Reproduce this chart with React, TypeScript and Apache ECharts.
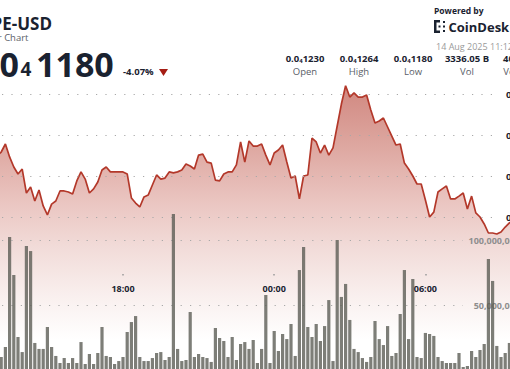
import React, { useEffect, useRef } from "react";
import * as echarts from "echarts";

// 10-minute buckets, 13:00 (13 Aug) .. 09:30 (14 Aug)
const startMinutes = 13 * 60;
const stepMinutes = 10;
const bucketCount = 124;
const categories: string[] = [];
for (let i = 0; i < bucketCount; i++) {
  const m = (startMinutes + i * stepMinutes) % (24 * 60);
  categories.push(
    `${String(Math.floor(m / 60)).padStart(2, "0")}:${String(m % 60).padStart(2, "0")}`
  );
}
const tickLabels = ["18:00", "00:00", "06:00"];

// Price in units of 1e-8 USD (0.0₄1230 = 1230)
const priceE8 = [
  1229.8, 1231.7, 1235.6, 1229.3, 1224.4, 1221.0, 1223.4, 1211.7, 1214.6, 1207.8,
  1213.2, 1205.4, 1201.0, 1206.3, 1207.8, 1212.7, 1212.7, 1212.2, 1211.2, 1217.6,
  1222.0, 1218.5, 1211.7, 1213.7, 1217.1, 1222.9, 1224.4, 1222.0, 1222.0, 1222.0,
  1222.0, 1221.0, 1209.3, 1206.8, 1204.9, 1209.8, 1210.7, 1215.6, 1220.5, 1218.5,
  1219.0, 1222.0, 1221.5, 1222.0, 1222.9, 1225.9, 1224.9, 1223.4, 1230.2, 1230.7,
  1226.8, 1226.3, 1218.0, 1217.6, 1221.0, 1222.0, 1222.0, 1225.4, 1236.6, 1226.8,
  1237.1, 1234.6, 1234.6, 1235.6, 1230.2, 1225.4, 1231.2, 1232.7, 1235.1, 1226.8,
  1219.0, 1220.0, 1208.8, 1220.0, 1220.5, 1238.5, 1236.6, 1231.2, 1235.1, 1230.2,
  1233.7, 1244.4, 1255.1, 1264.0, 1258.5, 1260.5, 1258.5, 1258.5, 1259.5, 1252.2,
  1245.9, 1246.8, 1248.3, 1243.9, 1239.5, 1235.1, 1235.6, 1226.3, 1223.4, 1220.0,
  1216.1, 1216.1, 1208.3, 1200.0, 1202.4, 1212.2, 1213.7, 1215.1, 1208.8, 1208.8,
  1210.2, 1211.7, 1203.9, 1210.2, 1202.0, 1200.0, 1196.6, 1192.2, 1192.2, 1191.7,
  1192.7, 1195.1, 1197.1, 1198.5,
];

// Volume in millions of tokens
const volumeM = [
  12, 10.0, 17.7, 102.3, 73.1, 25.4, 13.8, 95.4, 91.5, 20.8,
  16.2, 16.2, 33.1, 17.7, 10.8, 5.4, 9.2, 5.4, 9.2, 5.4,
  21.5, 4.6, 12.3, 4.6, 13.1, 33.1, 10.8, 10.0, 4.6, 6.9,
  10.0, 29.2, 36.9, 41.5, 10.0, 6.9, 6.9, 9.2, 13.1, 13.8,
  7.7, 10.0, 120.0, 16.2, 6.9, 7.7, 44.6, 10.0, 12.3, 10.0,
  9.2, 6.2, 32.3, 24.6, 22.3, 10.0, 25.4, 7.7, 20.0, 21.5,
  16.2, 23.1, 5.4, 16.2, 57.7, 5.4, 30.0, 14.6, 27.7, 23.8,
  35.4, 10.8, 76.9, 94.6, 33.1, 25.4, 35.4, 22.3, 33.8, 53.8,
  6.9, 100.0, 56.2, 66.2, 38.5, 16.2, 13.8, 9.2, 6.2, 10.0,
  37.7, 23.8, 19.2, 33.8, 10.8, 13.1, 43.1, 76.9, 23.8, 70.0,
  10.0, 9.2, 28.5, 27.7, 26.2, 10.0, 6.9, 5.4, 5.4, 5.4,
  13.1, 2.3, 3.1, 14.6, 10.0, 15.4, 20.0, 85.4, 68.5, 18.5,
  10.0, 13.1, 20.8, 15,
];

const title = "PEPE-USD";
const subtitle = "24 Hour Chart";
const lastPriceLead = "0.0";
const lastPriceSub = "4";
const lastPriceTail = "1180";
const changePct = "-4.07%";
const statValues = ["0.0₄1230", "0.0₄1264", "0.0₄1180", "3336.05 B", "40.42 M"];
const statLabels = ["Open", "High", "Low", "Vol", "Vol USD"];
const poweredBy = "Powered by";
const brand = "CoinDesk";
const stamp = "14 Aug 2025 11:12 UTC";

const FONT = '"Open Sans", "Noto Sans", sans-serif';
const DARK = "#1a2230";

function richSub(s: string): string {
  if (s.indexOf("₄") < 0) return `{v|${s}}`;
  return `{v|${s.replace("₄", "}{s|4}{v|")}}`;
}

export default function App() {
  const ref = useRef<HTMLDivElement>(null);
  useEffect(() => {
    if (!ref.current) return;
    const chart = echarts.init(ref.current, undefined, { renderer: "svg" });
    const gridL = -5.1;
    const gridW = 520.8;
    const tickIdx = tickLabels.map((t) => categories.indexOf(t));
    const showTick = (i: number) => tickIdx.indexOf(i) >= 0;

    const statEls: any[] = [];
    statValues.forEach((v, i) => {
      const cx = 305 + 54 * i;
      statEls.push({
        type: "text",
        x: cx,
        y: 58.5,
        style: {
          text: richSub(v),
          align: "center",
          verticalAlign: "middle",
          rich: {
            v: { font: `bold 9.5px ${FONT}`, fill: DARK },
            s: { font: `bold 6px ${FONT}`, fill: DARK, padding: [4, 0, 0, 0] },
          },
        },
      });
      statEls.push({
        type: "text",
        x: cx,
        y: 71.5,
        style: {
          text: statLabels[i],
          align: "center",
          verticalAlign: "middle",
          font: `9.5px ${FONT}`,
          fill: "#5a6068",
        },
      });
    });

    const gridBase = { outerBoundsMode: "none", containLabel: false };

    const option: any = {
      animation: false,
      backgroundColor: "#ffffff",
      textStyle: { fontFamily: FONT },
      grid: [
        { ...gridBase, left: 2, top: 94, width: 498, height: 123 },
        { ...gridBase, left: 2, top: 240, width: 461, height: 130 },
        { ...gridBase, left: gridL, top: 53, width: gridW, height: 328 },
        { ...gridBase, left: gridL, top: 240, width: gridW, height: 130 },
        { ...gridBase, left: gridL, top: 200, width: gridW, height: 74 },
      ],
      xAxis: [
        { gridIndex: 0, type: "value", show: false },
        { gridIndex: 1, type: "value", show: false },
        { gridIndex: 2, type: "category", data: categories, show: false },
        { gridIndex: 3, type: "category", data: categories, show: false },
        {
          gridIndex: 4,
          type: "category",
          data: categories,
          z: 6,
          axisLine: { show: false },
          axisTick: {
            show: true,
            alignWithLabel: true,
            interval: (i: number) => showTick(i),
            length: 1.5,
            lineStyle: { color: "#9a9a9a", width: 1.5 },
          },
          axisLabel: {
            interval: (i: number) => showTick(i),
            margin: 10,
            color: DARK,
            fontWeight: "bold",
            fontSize: 9,
            fontFamily: FONT,
          },
          splitLine: { show: false },
        },
      ],
      yAxis: [
        {
          gridIndex: 0,
          type: "value",
          position: "right",
          min: 1200,
          max: 1260,
          interval: 20,
          z: 3,
          axisLine: { show: false },
          axisTick: { show: false },
          splitLine: {
            show: true,
            lineStyle: { color: "#a8a8a8", width: 1.2, type: [1.2, 8.2] },
          },
          axisLabel: {
            margin: 6,
            formatter: (v: number) => `{a|0.0}{s|4}{a|${v}}`,
            rich: {
              a: { color: DARK, fontWeight: "bold", fontSize: 9.5, fontFamily: FONT },
              s: { color: DARK, fontWeight: "bold", fontSize: 6, fontFamily: FONT },
            },
          },
        },
        {
          gridIndex: 1,
          type: "value",
          position: "right",
          min: 0,
          max: 100,
          interval: 50,
          z: 2,
          axisLine: { show: false },
          axisTick: { show: false },
          splitLine: {
            show: true,
            lineStyle: { color: "#a8a8a8", width: 1.2, type: [1.2, 8.2] },
          },
          axisLabel: {
            align: "right",
            margin: 57,
            color: "#8e8e8e",
            fontWeight: "bold",
            fontSize: 9,
            fontFamily: FONT,
            formatter: (v: number) => (v === 0 ? "" : (v * 1e6).toLocaleString("en-US")),
          },
        },
        { gridIndex: 2, type: "value", min: 1120, max: 1280, show: false },
        { gridIndex: 3, type: "value", min: 0, max: 100, show: false },
        { gridIndex: 4, type: "value", show: false },
      ],
      series: [
        {
          type: "line",
          xAxisIndex: 2,
          yAxisIndex: 2,
          data: priceE8,
          symbol: "none",
          z: 1,
          lineStyle: { color: "#b3382a", width: 1.7 },
          areaStyle: {
            origin: "start",
            color: new echarts.graphic.LinearGradient(0, 0, 0, 1, [
              { offset: 0, color: "#bd554a" },
              { offset: 0.2, color: "#cf8177" },
              { offset: 0.4, color: "#e2aea8" },
              { offset: 0.55, color: "#eccdc9" },
              { offset: 0.72, color: "#f7eae8" },
              { offset: 0.86, color: "#ffffff" },
              { offset: 1, color: "#ffffff" },
            ]),
          },
        },
        {
          type: "bar",
          xAxisIndex: 3,
          yAxisIndex: 3,
          data: volumeM,
          barWidth: 3.2,
          clip: false,
          z: 4,
          itemStyle: { color: "rgba(88,90,82,0.78)" },
        },
      ],
      graphic: [
        {
          type: "text",
          x: 52,
          y: 23,
          style: { text: title, font: `bold 17px ${FONT}`, fill: DARK, align: "right", verticalAlign: "middle" },
        },
        {
          type: "text",
          x: 28.5,
          y: 37,
          style: { text: subtitle, font: `9.5px ${FONT}`, fill: "#5a6068", align: "right", verticalAlign: "middle" },
        },
        {
          type: "text",
          x: 19,
          y: 63.5,
          style: { text: lastPriceLead, font: `bold 34px ${FONT}`, fill: DARK, align: "right", verticalAlign: "middle" },
        },
        {
          type: "text",
          x: 20.5,
          y: 68.5,
          style: { text: lastPriceSub, font: `bold 19px ${FONT}`, fill: DARK, align: "left", verticalAlign: "middle" },
        },
        {
          type: "text",
          x: 36,
          y: 63.5,
          style: { text: lastPriceTail, font: `bold 34px ${FONT}`, fill: DARK, align: "left", verticalAlign: "middle" },
        },
        {
          type: "text",
          x: 123,
          y: 71.5,
          style: { text: changePct, font: `bold 9.5px ${FONT}`, fill: DARK, align: "left", verticalAlign: "middle" },
        },
        {
          type: "polygon",
          shape: { points: [[159, 69], [168, 69], [163.5, 76]] },
          style: { fill: "#a51d14" },
        },
        {
          type: "text",
          x: 434,
          y: 10,
          style: { text: poweredBy, font: `bold 8.5px ${FONT}`, fill: DARK, align: "left", verticalAlign: "middle" },
        },
        { type: "rect", shape: { x: 434, y: 20, width: 2.5, height: 13 }, style: { fill: DARK } },
        { type: "rect", shape: { x: 434, y: 20, width: 6, height: 2.5 }, style: { fill: DARK } },
        { type: "rect", shape: { x: 434, y: 30.5, width: 6, height: 2.5 }, style: { fill: DARK } },
        { type: "rect", shape: { x: 438.5, y: 25.5, width: 2, height: 2 }, style: { fill: DARK } },
        { type: "rect", shape: { x: 443, y: 21, width: 2, height: 2 }, style: { fill: DARK } },
        { type: "rect", shape: { x: 443, y: 25.5, width: 2, height: 2 }, style: { fill: DARK } },
        { type: "rect", shape: { x: 443, y: 30, width: 2, height: 2 }, style: { fill: DARK } },
        {
          type: "text",
          x: 448.5,
          y: 27,
          style: { text: brand, font: `bold 13px ${FONT}`, fill: DARK, align: "left", verticalAlign: "middle" },
        },
        {
          type: "text",
          x: 436,
          y: 46,
          style: { text: stamp, font: `9px ${FONT}`, fill: "#9a9a9a", align: "left", verticalAlign: "middle" },
        },
        ...statEls,
      ],
    };
    chart.setOption(option);
    return () => chart.dispose();
  }, []);

  return (
    <div
      ref={ref}
      style={{ position: "fixed", left: 0, top: 0, width: 510, height: 369, background: "#fff" }}
    />
  );
}
